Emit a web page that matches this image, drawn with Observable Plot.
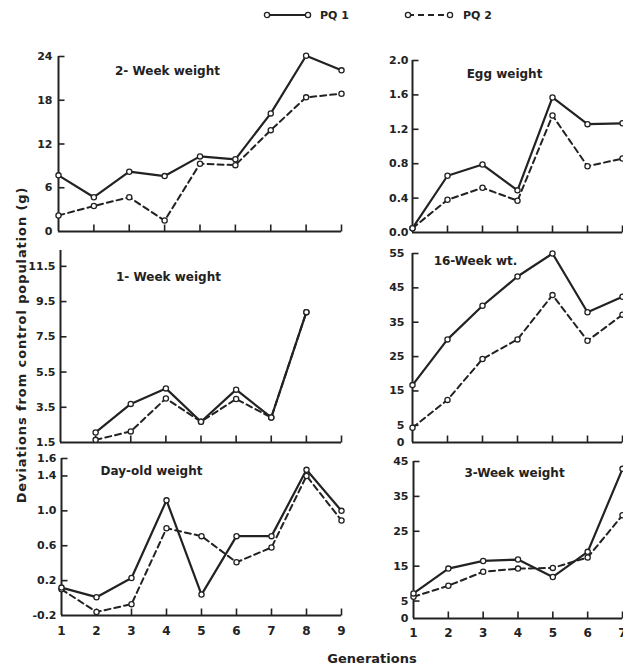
<!DOCTYPE html>
<html><head><meta charset="utf-8">
<script src="https://cdn.jsdelivr.net/npm/d3@7"></script>
<script src="https://cdn.jsdelivr.net/npm/@observablehq/plot@0.6"></script>
<style>
body{margin:0;background:#fff;overflow:hidden}
#root{position:relative;width:623px;height:666px;overflow:hidden;font-family:"DejaVu Sans",sans-serif;font-weight:bold;color:#222}
.panel{position:absolute}
.lbl{position:absolute;white-space:nowrap}
</style></head><body><div id="root"></div>
<script>
// ---- data ----
const generationsLeft = [1,2,3,4,5,6,7,8,9];
const generationsRight = [1,2,3,4,5,6,7];

const twoWeekPQ1 = [7.7,4.7,8.2,7.6,10.3,9.9,16.2,24.1,22.1];
const twoWeekPQ2 = [2.2,3.5,4.7,1.5,9.3,9.1,13.9,18.4,18.9];
const twoWeekTicks = [0,6,12,18,24];

const oneWeekPQ1 = [null,2.07,3.69,4.57,2.68,4.5,2.92,8.9,null];
const oneWeekPQ2 = [null,1.65,2.13,4.0,2.68,3.97,2.92,8.9,null];
const oneWeekTicks = [1.5,3.5,5.5,7.5,9.5,11.5];

const dayOldPQ1 = [0.12,0.01,0.23,1.12,0.04,0.71,0.71,1.47,1.0];
const dayOldPQ2 = [0.1,-0.16,-0.07,0.8,0.71,0.41,0.58,1.4,0.89];
const dayOldTicks = [-0.2,0.2,0.6,1.0,1.4,1.6];

const eggPQ1 = [0.05,0.66,0.79,0.49,1.57,1.26,1.27];
const eggPQ2 = [0.05,0.38,0.52,0.37,1.36,0.77,0.86];
const eggTicks = [0,0.4,0.8,1.2,1.6,2.0];

const sixteenWeekPQ1 = [16.7,30,39.8,48.3,55,37.9,42.4];
const sixteenWeekPQ2 = [4.3,12.4,24.3,30,42.9,29.6,37.2];
const sixteenWeekTicks = [0,5,15,25,35,45,55];

const threeWeekPQ1 = [7.2,14.3,16.5,16.9,11.9,19.1,42.9];
const threeWeekPQ2 = [6.2,9.4,13.4,14.3,14.5,17.5,29.6];
const threeWeekTicks = [0,5,15,25,35,45];

const seriesNames = ["PQ 1","PQ 2"];

// ---- layout ----
const ink = "#222";
const root = document.getElementById("root");
const f1 = d => d.toFixed(1);
const f0 = d => String(d);
const FONT = '"DejaVu Sans",sans-serif';

// inward tick symbols (drawn at frame edge, pointing into the plot)
const tickRight = {draw(ctx){ ctx.moveTo(0,0); ctx.lineTo(6,0); }};
const tickUp = {draw(ctx){ ctx.moveTo(0,0); ctx.lineTo(0,-7); }};

const panels = [
  {title:"2- Week weight", gens:generationsLeft, pq1:twoWeekPQ1, pq2:twoWeekPQ2, ticks:twoWeekTicks, domain:[0,24], fmt:f0,
   left:0, top:40, width:350, height:200, mt:16, mb:9, ml:58, mr:9, pad:6, tdx:109, tdy:10, xlab:false},
  {title:"Egg weight", gens:generationsRight, pq1:eggPQ1, pq2:eggPQ2, ticks:eggTicks, domain:[0,2], fmt:f1,
   left:360, top:40, width:263, height:200, mt:20, mb:8, ml:52, mr:1, pad:4, tdx:92, tdy:9, xlab:false},
  {title:"1- Week weight", gens:generationsLeft, pq1:oneWeekPQ1, pq2:oneWeekPQ2, ticks:oneWeekTicks, domain:[1.5,12.4], fmt:f1,
   left:0, top:240, width:350, height:210, mt:10, mb:8, ml:60, mr:9, pad:5, tdx:108, tdy:22, xlab:false},
  {title:"16-Week wt.", gens:generationsRight, pq1:sixteenWeekPQ1, pq2:sixteenWeekPQ2, ticks:sixteenWeekTicks, domain:[0,55], fmt:f0,
   left:360, top:240, width:263, height:210, mt:13, mb:8, ml:52, mr:1, pad:8, tdx:63, tdy:3, xlab:false},
  {title:"Day-old weight", gens:generationsLeft, pq1:dayOldPQ1, pq2:dayOldPQ2, ticks:dayOldTicks, domain:[-0.2,1.6], fmt:f1,
   left:0, top:440, width:350, height:200, mt:18, mb:25, ml:61, mr:9, pad:5, tdx:90, tdy:8, xlab:true, xpad:11},
  {title:"3-Week weight", gens:generationsRight, pq1:threeWeekPQ1, pq2:threeWeekPQ2, ticks:threeWeekTicks, domain:[0,45], fmt:f0,
   left:360, top:440, width:263, height:200, mt:21, mb:22, ml:53, mr:1, pad:5, tdx:101, tdy:7, xlab:true, xpad:10}
];

for (const p of panels) {
  const rows = [];
  p.gens.forEach((g,i) => {
    if (p.pq1[i] != null) rows.push({gen:g, value:p.pq1[i], series:seriesNames[0]});
  });
  p.gens.forEach((g,i) => {
    if (p.pq2[i] != null) rows.push({gen:g, value:p.pq2[i], series:seriesNames[1]});
  });
  const s1 = rows.filter(d => d.series === seriesNames[0]);
  const s2 = rows.filter(d => d.series === seriesNames[1]);
  const xd = [p.gens[0], p.gens[p.gens.length-1]];
  const marks = [
    Plot.ruleX([xd[0]], {stroke:ink, strokeWidth:2}),
    Plot.ruleY([p.domain[0]], {stroke:ink, strokeWidth:2}),
    Plot.dot(p.ticks.filter(t => t !== p.domain[0]), {y:d=>d, frameAnchor:"left", symbol:tickRight, fill:"none", stroke:ink, strokeWidth:1.6}),
    Plot.dot(p.gens.slice(1), {x:d=>d, frameAnchor:"bottom", symbol:tickUp, fill:"none", stroke:ink, strokeWidth:1.6}),
    Plot.axisY({ticks:p.ticks, tickSize:0, tickPadding:p.pad, tickFormat:p.fmt, label:null, fontSize:11, fontWeight:"bold"}),
    Plot.line(s2, {x:"gen", y:"value", stroke:ink, strokeWidth:2, strokeDasharray:"6,4"}),
    Plot.line(s1, {x:"gen", y:"value", stroke:ink, strokeWidth:2.2}),
    Plot.dot(s2, {x:"gen", y:"value", r:2.6, fill:"white", stroke:ink, strokeWidth:1.3}),
    Plot.dot(s1, {x:"gen", y:"value", r:2.6, fill:"white", stroke:ink, strokeWidth:1.3}),
    Plot.text([p.title], {text:d=>d, frameAnchor:"top-left", dx:p.tdx, dy:p.tdy, textAnchor:"middle", fontSize:12, fontWeight:"bold", letterSpacing:"0.3px"})
  ];
  if (p.xlab) marks.push(Plot.axisX({ticks:p.gens, tickSize:0, tickPadding:p.xpad, tickFormat:f0, label:null, fontSize:12, fontWeight:"bold"}));
  const chart = Plot.plot({
    width:p.width, height:p.height,
    marginTop:p.mt, marginBottom:p.mb, marginLeft:p.ml, marginRight:p.mr,
    style:{fontFamily:FONT, fontSize:"11px", color:ink, background:"transparent", overflow:"visible"},
    x:{domain:xd, axis:null},
    y:{domain:p.domain, axis:null},
    marks
  });
  const div = document.createElement("div");
  div.className = "panel";
  div.style.left = p.left + "px";
  div.style.top = p.top + "px";
  div.style.width = p.width + "px";
  div.appendChild(chart);
  root.appendChild(div);
}

// y-axis title
const yt = document.createElement("div");
yt.className = "lbl";
yt.textContent = "Deviations from control population (g)";
yt.style.cssText += "font-size:13px;letter-spacing:0.9px;left:21px;top:345px;transform:translate(-50%,-50%) rotate(-90deg);";
root.appendChild(yt);

// x-axis title
const xt = document.createElement("div");
xt.className = "lbl";
xt.textContent = "Generations";
xt.style.cssText += "font-size:13px;left:372px;top:658px;transform:translate(-50%,-50%);";
root.appendChild(xt);

// legend
const leg = document.createElement("div");
leg.style.cssText = "position:absolute;left:262px;top:5px;height:20px;";
leg.innerHTML = `
<svg width="240" height="20" style="position:absolute;left:0;top:0;overflow:visible">
  <line x1="5" y1="10" x2="46" y2="10" stroke="${ink}" stroke-width="2.2"/>
  <circle cx="5" cy="10" r="2.6" fill="white" stroke="${ink}" stroke-width="1.3"/>
  <circle cx="46" cy="10" r="2.6" fill="white" stroke="${ink}" stroke-width="1.3"/>
  <text x="58" y="14" font-size="11" font-weight="bold" fill="${ink}" font-family="DejaVu Sans, sans-serif">${seriesNames[0]}</text>
  <line x1="146" y1="10" x2="188" y2="10" stroke="${ink}" stroke-width="2" stroke-dasharray="6,4"/>
  <circle cx="146" cy="10" r="2.6" fill="white" stroke="${ink}" stroke-width="1.3"/>
  <circle cx="188" cy="10" r="2.6" fill="white" stroke="${ink}" stroke-width="1.3"/>
  <text x="201" y="14" font-size="11" font-weight="bold" fill="${ink}" font-family="DejaVu Sans, sans-serif">${seriesNames[1]}</text>
</svg>`;
root.appendChild(leg);
</script>
</body></html>
